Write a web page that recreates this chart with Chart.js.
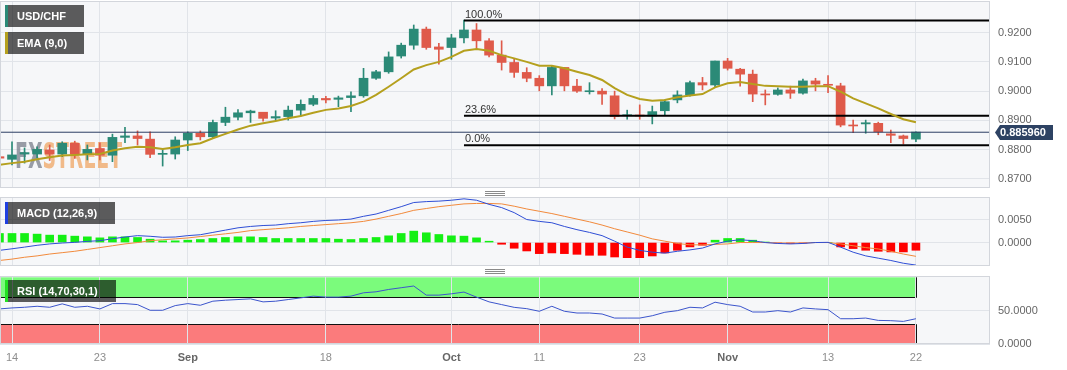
<!DOCTYPE html>
<html><head><meta charset="utf-8">
<script src="https://cdn.jsdelivr.net/npm/chart.js@4.4.0/dist/chart.umd.min.js"></script>
<style>
html,body{margin:0;padding:0;background:#fff;width:1067px;height:370px;overflow:hidden;}
.p{position:absolute;left:0;width:1067px;}
canvas{display:block}
</style></head><body>
<div class="p" style="top:0;height:189px"><canvas id="cMain" width="1067" height="189" style="width:1067px;height:189px"></canvas></div>
<div class="p" style="top:189px;height:79px"><canvas id="cMacd" width="1067" height="79" style="width:1067px;height:79px"></canvas></div>
<div class="p" style="top:268px;height:102px"><canvas id="cRsi" width="1067" height="102" style="width:1067px;height:102px"></canvas></div>
<script>
// ---------------- DATA ----------------
const dates = [
 '2023-08-11','2023-08-14','2023-08-15','2023-08-16','2023-08-17','2023-08-18','2023-08-21','2023-08-22','2023-08-23','2023-08-24','2023-08-25','2023-08-28','2023-08-29','2023-08-30','2023-08-31',
 '2023-09-01','2023-09-04','2023-09-05','2023-09-06','2023-09-07','2023-09-08','2023-09-11','2023-09-12','2023-09-13','2023-09-14','2023-09-15','2023-09-18','2023-09-19','2023-09-20','2023-09-21','2023-09-22','2023-09-25','2023-09-26','2023-09-27','2023-09-28','2023-09-29',
 '2023-10-02','2023-10-03','2023-10-04','2023-10-05','2023-10-06','2023-10-09','2023-10-10','2023-10-11','2023-10-12','2023-10-13','2023-10-16','2023-10-17','2023-10-18','2023-10-19','2023-10-20','2023-10-23','2023-10-24','2023-10-25','2023-10-26','2023-10-27','2023-10-30','2023-10-31',
 '2023-11-01','2023-11-02','2023-11-03','2023-11-06','2023-11-07','2023-11-08','2023-11-09','2023-11-10','2023-11-13','2023-11-14','2023-11-15','2023-11-16','2023-11-17','2023-11-20','2023-11-21','2023-11-22'
];
const opens = [.8776,.8767,.8785,.8785,.8799,.8785,.8822,.8785,.8804,.8781,.8842,.8847,.8836,.8784,.8785,.8833,.8856,.8844,.8893,.8911,.8926,.8928,.8908,.8913,.8935,.8955,.8975,.8972,.8978,.8984,.9044,.9066,.9120,.9157,.9212,.9151,.9149,.9182,.9209,.9172,.9123,.9098,.9064,.9044,.9018,.9081,.9017,.8998,.9000,.8984,.8916,.8918,.8915,.8933,.8970,.8987,.9029,.9021,.9103,.9075,.9058,.8990,.8989,.9004,.8993,.9035,.9023,.9018,.8884,.8888,.8890,.8854,.8847,.8836];
const highs = [.8782,.8827,.8806,.8810,.8816,.8827,.8829,.8816,.8823,.8853,.8876,.8864,.8861,.8801,.8844,.8861,.8864,.8901,.8945,.8937,.8935,.8928,.8933,.8949,.8970,.8985,.8982,.8983,.8998,.9078,.9071,.9134,.9164,.9226,.9219,.9163,.9194,.9243,.9231,.9180,.9172,.9112,.9080,.9053,.9086,.9081,.9040,.9029,.9009,.9000,.8935,.8953,.8949,.8970,.9001,.9034,.9047,.9103,.9112,.9078,.9072,.9004,.9011,.9017,.9041,.9044,.9053,.9027,.8901,.8901,.8894,.8867,.8850,.8861];
const lows = [.8765,.8748,.8754,.8772,.8763,.8776,.8770,.8765,.8765,.8759,.8824,.8816,.8773,.8744,.8768,.8797,.8833,.8839,.8882,.8902,.8893,.8897,.8899,.8901,.8915,.8950,.8960,.8947,.8930,.8979,.9040,.9061,.9113,.9143,.9143,.9092,.9109,.9165,.9143,.9117,.9072,.9047,.9032,.9001,.8987,.9001,.8996,.8990,.8955,.8905,.8904,.8904,.8888,.8918,.8960,.8983,.9004,.9014,.9072,.9017,.8964,.8953,.8986,.8975,.8990,.9001,.8995,.8878,.8858,.8856,.8851,.8824,.8819,.8827];
const closes = [.8771,.8782,.8790,.8801,.8785,.8822,.8785,.8801,.8781,.8842,.8847,.8838,.8784,.8787,.8833,.8856,.8844,.8893,.8911,.8926,.8932,.8907,.8913,.8935,.8955,.8975,.8970,.8977,.8984,.9044,.9066,.9117,.9157,.9212,.9149,.9143,.9182,.9209,.9172,.9123,.9098,.9064,.9044,.9018,.9081,.9018,.9000,.9000,.8990,.8913,.8918,.8915,.8930,.8964,.8987,.9029,.9021,.9103,.9078,.9058,.8990,.8987,.9004,.8993,.9035,.9024,.9020,.8884,.8881,.8892,.8861,.8849,.8838,.8860];
const ema9 = [.8748,.8754,.8759,.8767,.8774,.8780,.8782,.8784,.8785,.8797,.8805,.8810,.8808,.8802,.8808,.8816,.8822,.8839,.8854,.8869,.8882,.8890,.8898,.8907,.8915,.8926,.8936,.8941,.8949,.8964,.8987,.9015,.9044,.9074,.9089,.9100,.9117,.9138,.9144,.9138,.9123,.9112,.9100,.9087,.9087,.9078,.9066,.9055,.9038,.9010,.8987,.8973,.8967,.8970,.8979,.8985,.8990,.9013,.9027,.9031,.9024,.9018,.9017,.9015,.9015,.9017,.9017,.8998,.8975,.8958,.8941,.8922,.8904,.8894];
const macdLine = [-.0017,-.00136,-.00099,-.0006,-.0003,-.0001,.00004,.00026,.0004,.00083,.0012,.0015,.00136,.00114,.0012,.0015,.0017,.0022,.0027,.0032,.0035,.0037,.0038,.0041,.0043,.0046,.0048,.0049,.0051,.0057,.0062,.0070,.0078,.0087,.0089,.0090,.0092,.0095,.0092,.0083,.0076,.0065,.0050,.0046,.0043,.0035,.0028,.0022,.0015,.0003,-.0010,-.0017,-.0021,-.0023,-.0019,-.0016,-.0012,-.0003,.0003,.0006,.0004,.0000,-.0002,-.0003,-.0002,.0000,.00004,-.0010,-.0021,-.0029,-.0034,-.0039,-.0045,-.0049];
const signalLine = [-.0039,-.0036,-.0032,-.0029,-.0025,-.0022,-.0019,-.0015,-.0011,-.0007,-.0003,.0000,.0004,.0006,.0008,.0010,.0013,.0016,.0019,.0022,.0026,.0028,.0030,.0032,.0035,.0037,.0039,.0041,.0043,.0046,.0051,.0057,.0063,.0070,.0074,.0078,.0081,.0084,.0085,.0085,.0084,.0079,.0073,.0068,.0063,.0057,.0051,.0045,.0038,.0030,.0023,.0016,.0008,.0003,-.0002,-.0005,-.0005,-.0004,-.0003,.0000,.0000,.0000,-.0001,-.0001,-.0001,.0000,.0000,-.0003,-.0007,-.0011,-.0014,-.0019,-.0025,-.0030];
const histogram = [.00197,.00197,.00197,.00183,.00161,.00161,.00139,.00124,.00102,.00124,.00124,.0011,.00073,.00037,.00037,.00051,.00066,.00088,.0011,.00124,.00124,.0011,.00088,.00088,.00088,.00088,.00088,.00073,.00066,.00088,.0011,.00146,.00197,.00248,.00212,.00175,.00146,.00139,.00102,.00029,-.00037,-.00124,-.00183,-.00241,-.00226,-.00241,-.00256,-.00277,-.00277,-.00314,-.00329,-.00329,-.00292,-.00226,-.00168,-.00095,-.00058,.00051,.00088,.00088,.00051,.00005,-.0001,-.0002,-.0001,0,0,-.00095,-.00131,-.00168,-.0019,-.00204,-.00204,-.00168];
const rsi14 = [52.6,54.1,55.1,56.6,55.1,60.2,55.1,56.6,52.6,60.6,60.6,59.1,50.6,50.6,57.6,60.6,58.1,64.2,65.7,66.7,67.7,63.2,64.2,66.7,69.2,71.8,70.3,70.3,71.8,76.8,78.3,81.8,84.4,87.0,73.3,73.3,75.3,77.9,70.3,63.2,59.1,55.0,53.0,49.1,56.6,49.1,46.5,46.5,45.0,38.9,38.9,38.9,42.4,47.6,50.0,55.1,54.1,62.7,59.1,56.6,48.0,48.0,50.0,48.0,54.1,52.6,51.5,37.9,37.9,38.9,35.4,35.0,33.9,37.9];
const tickDates = ['2023-08-14','2023-08-23','2023-09-01','2023-09-18','2023-10-02','2023-10-11','2023-10-23','2023-11-01','2023-11-13','2023-11-22'];
const tickText = ['14','23','Sep','18','Oct','11','23','Nov','13','22'];
const priceTicks = [0.87,0.88,0.89,0.90,0.91,0.92];
const macdTicks = [0, 0.005];
const rsiTicks = [0, 50];
const lastPrice = 0.885960;
const fibHigh = 0.9241, fibLow = 0.8815, fibStartDate = '2023-10-03';
const fibLevels = [1, 0.236, 0];
const rsiUpper = 70, rsiLower = 30, rsiTop = 100;

// ---------------- STYLE ----------------
const FONT = '"Liberation Sans", Arial, Helvetica, sans-serif';
const UP = '#2b8a77', DOWN = '#df5a4a';
const X_MIN = 0.044, X_MAX = 78.9;
const tickPos = tickDates.map(d => dates.indexOf(d));
const lastIdx = dates.length - 1;
const GRID = '#e1e4e9';

function zeroPad(s){ s.paddingLeft = 0; s.paddingRight = 0; s.paddingTop = 0; s.paddingBottom = 0; }
function xScale(show){
  return {
    type:'linear', min:X_MIN, max:X_MAX, offset:false,
    afterBuildTicks: s => { s.ticks = tickPos.map(v => ({value:v})); },
    grid:{color:GRID, drawTicks:false, offset:false},
    border:{display:false},
    ticks:{display:show, autoSkip:false, maxRotation:0, minRotation:0, padding:7,
      callback: v => tickText[tickPos.indexOf(v)],
      color: c => /^\d+$/.test(tickText[c.index] || '1') ? '#8e8e8e' : '#666',
      font: c => ({family:FONT, size:11, weight: /^\d+$/.test(tickText[c.index] || '1') ? 'normal' : 'bold'})
    },
    afterFit: s => { s.height = show ? 26 : 0; zeroPad(s); }
  };
}
function yScale(min, max, arr){
  return {
    position:'right', min, max,
    afterBuildTicks: s => { s.ticks = arr.map(v => ({value:v})); },
    grid:{color:GRID, drawTicks:false},
    border:{display:false},
    ticks:{padding:8, color:'#666', font:{family:FONT, size:11}, callback: v => Number(v).toFixed(4)},
    afterFit: s => { s.width = 77; zeroPad(s); }
  };
}
function bg(chart){
  const {ctx, chartArea:a} = chart;
  ctx.save(); ctx.fillStyle = '#f6f7f9';
  ctx.fillRect(a.left, a.top, a.right - a.left, a.bottom - a.top); ctx.restore();
}
function border(chart){
  const {ctx, chartArea:a} = chart;
  ctx.save(); ctx.strokeStyle = '#d3d6dc'; ctx.lineWidth = 1;
  ctx.strokeRect(a.left + 0.5, a.top + 0.5, a.right - a.left - 1, a.bottom - a.top - 1); ctx.restore();
}
function legendBox(ctx, x, y, w, h, bar, text){
  ctx.save();
  ctx.fillStyle = 'rgba(0,0,0,0.63)'; ctx.fillRect(x, y, w, h);
  ctx.fillStyle = bar; ctx.fillRect(x, y, 3, h);
  ctx.fillStyle = '#fff'; ctx.font = 'bold 11px ' + FONT;
  ctx.textBaseline = 'middle'; ctx.textAlign = 'left';
  ctx.fillText(text, x + 12, y + h / 2 + 0.5);
  ctx.restore();
}
function handle(ctx, y){
  ctx.save(); ctx.fillStyle = '#8a8a8a';
  for (let k = 0; k < 3; k++) ctx.fillRect(485, y + k * 2, 20, 1);
  ctx.restore();
}
const common = {
  responsive:false, animation:false, events:[],
  plugins:{legend:{display:false}, tooltip:{enabled:false}}
};
const xs = dates.map((d, i) => i);

// ---------------- MAIN ----------------
const fibStart = dates.indexOf(fibStartDate);
const fibSets = fibLevels.map(l => ({
  type:'line', order:0, borderColor:'#000', borderWidth:2, pointRadius:0,
  data:[{x:fibStart, y:fibLow + l * (fibHigh - fibLow)}, {x:X_MAX, y:fibLow + l * (fibHigh - fibLow)}]
}));
new Chart(document.getElementById('cMain'), {
  type:'bar',
  data:{datasets:[
    {type:'line', order:0, data: xs.map(i => ({x:i, y:ema9[i]})), borderColor:'#b5a01e', borderWidth:2, pointRadius:0, tension:0},
    ...fibSets,
    {type:'line', order:0, data:[{x:X_MIN, y:lastPrice}, {x:X_MAX, y:lastPrice}], borderColor:'#2b3d63', borderWidth:1, pointRadius:0},
    {type:'bar', order:1, grouped:false, barThickness:9, minBarLength:1, borderWidth:0,
      data: xs.map(i => ({x:i, y:[opens[i], closes[i]]})),
      backgroundColor: xs.map(i => closes[i] >= opens[i] ? UP : DOWN)},
    {type:'bar', order:2, grouped:false, barThickness:1, borderWidth:0,
      data: xs.map(i => ({x:i, y:[lows[i], highs[i]]})),
      backgroundColor: xs.map(i => closes[i] >= opens[i] ? UP : DOWN)}
  ]},
  options:{...common, layout:{padding:{top:1, bottom:1, left:0, right:0}},
    scales:{x:xScale(false), y:yScale(0.8669, 0.9308, priceTicks)}},
  plugins:[{
    id:'mainDecor',
    beforeDraw: c => bg(c),
    beforeDatasetsDraw(c){
      const ctx = c.ctx; ctx.save();
      ctx.font = 'bold 36px "DejaVu Sans Condensed", "DejaVu Sans", sans-serif';
      const w1 = ctx.measureText('FX').width, w2 = ctx.measureText('STREET').width;
      ctx.translate(15, 168); ctx.scale(107 / (w1 + w2), 1);
      ctx.textBaseline = 'alphabetic'; ctx.textAlign = 'left';
      ctx.fillStyle = 'rgba(120,126,138,0.75)'; ctx.fillText('FX', 0, 0);
      ctx.fillStyle = 'rgba(240,160,90,0.7)'; ctx.fillText('STREET', w1, 0);
      ctx.restore();
    },
    afterDatasetsDraw(c){
      const ctx = c.ctx, x = c.scales.x, y = c.scales.y;
      ctx.save(); ctx.fillStyle = '#333'; ctx.font = '11px ' + FONT;
      ctx.textBaseline = 'alphabetic'; ctx.textAlign = 'left';
      fibLevels.forEach(l => {
        const py = y.getPixelForValue(fibLow + l * (fibHigh - fibLow));
        ctx.fillText((l * 100).toFixed(1) + '%', x.getPixelForValue(fibStart) + 1, py - 3);
      });
      ctx.restore();
    },
    afterDraw(c){
      border(c);
      const ctx = c.ctx, a = c.chartArea;
      legendBox(ctx, 5, a.top + 4, 79, 22, '#2b8a77', 'USD/CHF');
      legendBox(ctx, 5, a.top + 31, 79, 22, '#b5a01e', 'EMA (9,0)');
      const yy = Math.round(c.scales.y.getPixelForValue(lastPrice)) + 0.5;
      const L = a.right + 5;
      ctx.save(); ctx.fillStyle = '#2d4263';
      ctx.beginPath(); ctx.moveTo(L, yy); ctx.lineTo(L + 5, yy - 7.5); ctx.lineTo(L + 58, yy - 7.5);
      ctx.lineTo(L + 58, yy + 7.5); ctx.lineTo(L + 5, yy + 7.5); ctx.closePath(); ctx.fill();
      ctx.fillStyle = '#fff'; ctx.font = 'bold 11px ' + FONT; ctx.textBaseline = 'middle'; ctx.textAlign = 'left';
      ctx.fillText(lastPrice.toFixed(6), L + 5, yy + 0.5);
      ctx.restore();
    }
  }]
});

// ---------------- MACD ----------------
new Chart(document.getElementById('cMacd'), {
  type:'bar',
  data:{datasets:[
    {type:'line', order:0, data: xs.map(i => ({x:i, y:macdLine[i]})), borderColor:'#2f4ed6', borderWidth:1, pointRadius:0, tension:0},
    {type:'line', order:0, data: xs.map(i => ({x:i, y:signalLine[i]})), borderColor:'#f28a3c', borderWidth:1, pointRadius:0, tension:0},
    {type:'bar', order:1, grouped:false, barThickness:8, borderWidth:0,
      data: xs.map(i => ({x:i, y:histogram[i]})),
      backgroundColor: xs.map(i => histogram[i] >= 0 ? '#14f014' : '#ff0000')}
  ]},
  options:{...common, layout:{padding:{top:8, bottom:2, left:0, right:0}},
    scales:{x:xScale(false), y:yScale(-0.0051, 0.0099, macdTicks)}},
  plugins:[{
    id:'macdDecor',
    beforeDraw: c => bg(c),
    afterDraw(c){
      border(c);
      legendBox(c.ctx, 5, c.chartArea.top + 5, 110, 22, '#1f3fe0', 'MACD (12,26,9)');
      handle(c.ctx, c.chartArea.top - 6);
    }
  }]
});

// ---------------- RSI ----------------
new Chart(document.getElementById('cRsi'), {
  type:'line',
  data:{datasets:[
    {data: xs.map(i => ({x:i, y:rsi14[i]})), borderColor:'#3c55cc', borderWidth:1, pointRadius:0, tension:0}
  ]},
  options:{...common, layout:{padding:{top:8, bottom:0, left:0, right:0}},
    scales:{x:xScale(true), y:yScale(0, 102, rsiTicks)}},
  plugins:[{
    id:'rsiDecor',
    beforeDraw(c){
      bg(c);
      const ctx = c.ctx, a = c.chartArea, x = c.scales.x, y = c.scales.y;
      const xr = Math.round(x.getPixelForValue(lastIdx)) + 0.5, xl = a.left + 0.5;
      const gT = y.getPixelForValue(rsiTop), gB = Math.round(y.getPixelForValue(rsiUpper)) + 0.5;
      const rT = Math.round(y.getPixelForValue(rsiLower)) + 0.5, rB = y.getPixelForValue(0);
      ctx.save();
      ctx.fillStyle = 'rgba(0,255,0,0.5)'; ctx.fillRect(xl, gT, xr - xl, gB - gT);
      ctx.fillStyle = 'rgba(255,0,0,0.5)'; ctx.fillRect(xl, rT, xr - xl, rB - rT);
      ctx.strokeStyle = '#111'; ctx.lineWidth = 1;
      ctx.beginPath();
      ctx.moveTo(xl, gT); ctx.lineTo(xl, gB); ctx.lineTo(xr, gB); ctx.lineTo(xr, gT);
      ctx.moveTo(xl, rB); ctx.lineTo(xl, rT); ctx.lineTo(xr, rT); ctx.lineTo(xr, rB);
      ctx.stroke(); ctx.restore();
    },
    afterDraw(c){
      border(c);
      legendBox(c.ctx, 5, c.chartArea.top + 4, 111, 22, '#22e022', 'RSI (14,70,30,1)');
      handle(c.ctx, c.chartArea.top - 7);
    }
  }]
});
</script>
</body></html>
